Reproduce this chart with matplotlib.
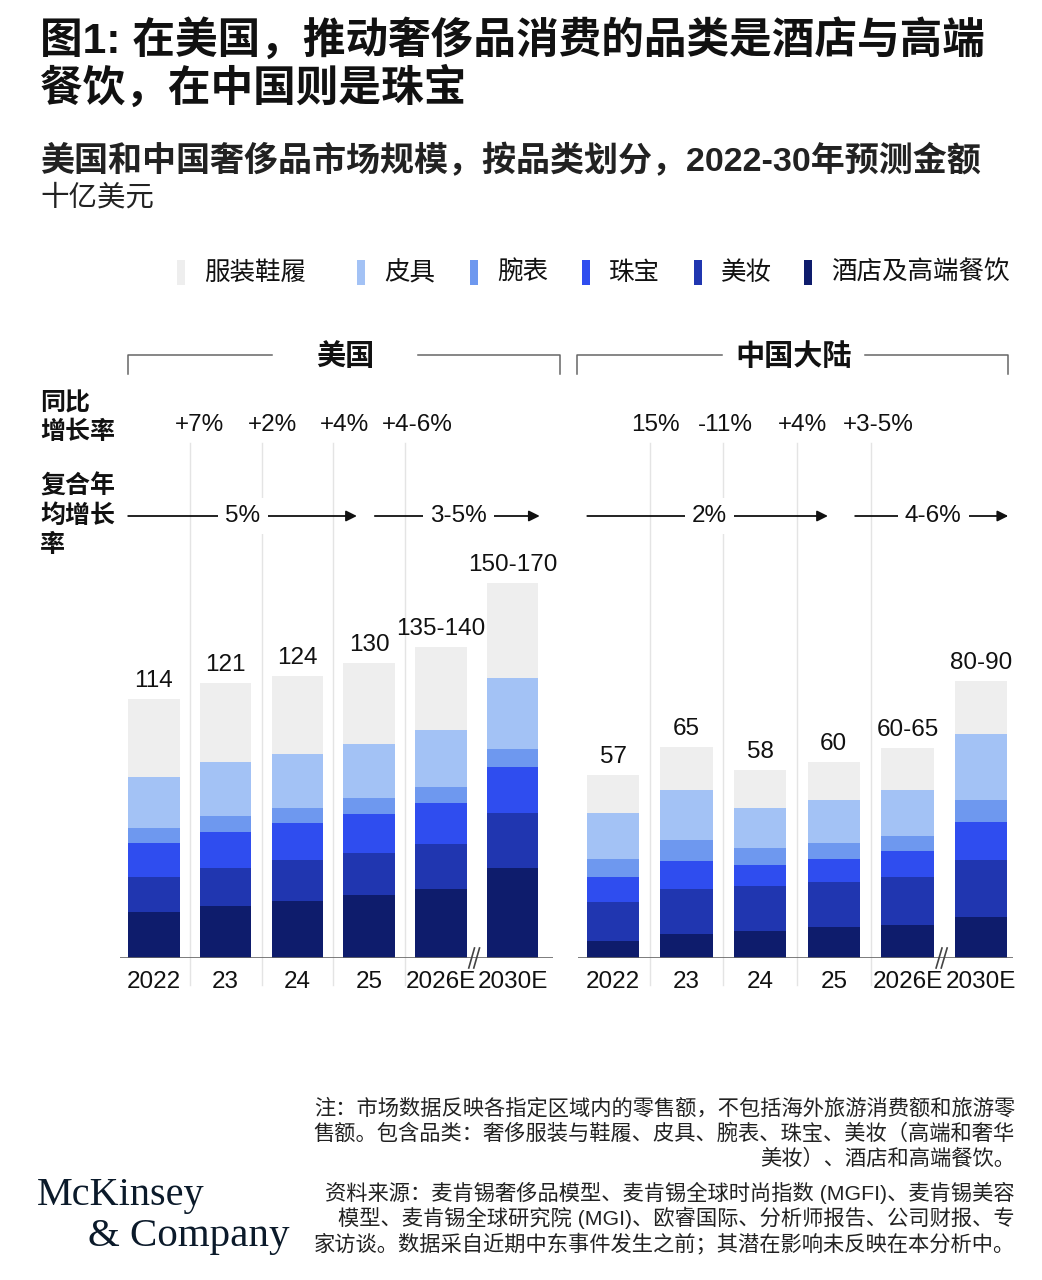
import matplotlib.pyplot as plt
from matplotlib.patches import Rectangle
from matplotlib.transforms import blended_transform_factory
import numpy as np

plt.rcParams['font.family'] = ['Liberation Sans', 'Noto Sans CJK SC', 'DejaVu Sans']

W, H = 1042, 1280

# ---- data ----
categories = ['服装鞋履', '皮具', '腕表', '珠宝', '美妆', '酒店及高端餐饮']
colors = ['#eeeeee', '#a3c2f5', '#6e98ef', '#2f4def', '#2036b0', '#0e1c6c']
years = ['2022', '23', '24', '25', '2026E', '2030E']

# US, 十亿美元, per category (top of stack first)
us_apparel = [34.5, 34.6, 34.7, 35.4, 36.6, 42.1]
us_leather = [22.3, 23.7, 23.6, 23.8, 25.1, 31.1]
us_watches = [6.8, 7.4, 6.8, 7.2, 7.2, 8.1]
us_jewelry = [14.8, 15.7, 16.3, 17.0, 17.8, 20.3]
us_beauty = [15.6, 16.6, 18.1, 18.6, 20.1, 24.2]
us_hotel = [20.1, 23.0, 24.9, 27.8, 30.2, 39.6]
us_totals = ['114', '121', '124', '130', '135-140', '150-170']
us_yoy = ['+7%', '+2%', '+4%', '+4-6%']
us_cagr = ['5%', '3-5%']

# China mainland
cn_apparel = [11.6, 13.2, 11.8, 11.7, 12.9, 16.5]
cn_leather = [14.2, 15.5, 12.3, 13.3, 14.2, 20.3]
cn_watches = [5.6, 6.6, 5.2, 4.7, 4.6, 6.7]
cn_jewelry = [7.7, 8.6, 6.7, 7.1, 8.1, 11.9]
cn_beauty = [12.2, 13.8, 13.7, 14.0, 14.7, 17.3]
cn_hotel = [5.1, 7.4, 8.4, 9.6, 10.3, 12.8]
cn_totals = ['57', '65', '58', '60', '60-65', '80-90']
cn_yoy = ['15%', '-11%', '+4%', '+3-5%']
cn_cagr = ['2%', '4-6%']

fig = plt.figure(figsize=(W / 100, H / 100), dpi=100)


def fy(py):
    return 1 - py / H


def draw_panel(left_px, right_px, xlim, ymax, width, series, totals, yoy, yoy_x,
               cagr, cagr_spans, name, bracket):
    base_px, top_px = 958, 440
    ax = fig.add_axes([left_px / W, fy(base_px), (right_px - left_px) / W,
                       (base_px - top_px) / H])
    x = np.arange(len(years))
    bottom = np.zeros(len(years))
    # stack from bottom (hotel) to top (apparel)
    for vals, col in zip(series[::-1], colors[::-1]):
        ax.bar(x, vals, width, bottom=bottom, color=col, zorder=3)
        bottom += np.array(vals)
    for xi, tot, txt in zip(x, bottom, totals):
        ax.annotate(txt, (xi, tot), xytext=(0, 5), textcoords='offset points',
                    ha='center', va='bottom', fontsize=17.5, color='#111111')
    ax.set_xlim(*xlim)
    ax.set_ylim(0, ymax)
    ax.set_xticks(x, years, fontsize=17.5, color='#111111')
    ax.tick_params(axis='x', length=0, pad=9)
    ax.set_yticks([])
    for s in ax.spines.values():
        s.set_visible(False)
    ax.axhline(0, color='#666666', lw=1.2, zorder=4)

    tr = blended_transform_factory(ax.transData, fig.transFigure)
    # thin separators between years
    for gx in x[:4] + 0.5:
        ax.plot([gx, gx], [fy(443), fy(985)], transform=tr, color='#e4e4e4',
                lw=1, clip_on=False, zorder=1)
    # axis break marker
    for dx in (-0.07, 0.0):
        ax.plot([4.5 + dx - 0.04, 4.5 + dx + 0.04], [fy(968), fy(948)],
                transform=tr, color='#444444', lw=1.2, clip_on=False, zorder=5)
    # YoY labels
    for lx, txt in zip(yoy_x, yoy):
        ax.text(lx, fy(425), txt, transform=tr, ha='center', va='center',
                fontsize=17.5, color='#111111')
    # CAGR arrows
    for (x0, x1, xm), txt in zip(cagr_spans, cagr):
        ax.annotate('', xy=(x1, fy(516)), xytext=(x0, fy(516)), xycoords=tr,
                    textcoords=tr,
                    arrowprops=dict(arrowstyle='-|>', color='#111111', lw=1.3,
                                    mutation_scale=16, shrinkA=0, shrinkB=0),
                    annotation_clip=False)
        ax.text(xm, fy(516), txt, transform=tr, ha='center', va='center',
                fontsize=17.5, color='#111111',
                bbox=dict(facecolor='white', edgecolor='none', pad=5))
    # bracket with region name
    b0, g0, g1, b1 = bracket
    kw = dict(transform=tr, color='#666666', lw=1.1, clip_on=False)
    ax.plot([b0, b0, g0], [fy(374), fy(355), fy(355)], **kw)
    ax.plot([g1, b1, b1], [fy(355), fy(355), fy(374)], **kw)
    ax.text((g0 + g1) / 2, fy(357), name, transform=tr, ha='center',
            va='center', fontsize=21, fontweight='bold', color='#111111')
    return ax


us_series = [us_apparel, us_leather, us_watches, us_jewelry, us_beauty, us_hotel]
cn_series = [cn_apparel, cn_leather, cn_watches, cn_jewelry, cn_beauty, cn_hotel]

draw_panel(120, 553, (-0.474, 5.565), 518 / 2.27, 0.72, us_series, us_totals,
           us_yoy, [0.64, 1.65, 2.66, 3.67], us_cagr,
           [(-0.36, 2.83, 1.24), (3.08, 5.38, 4.25)], '美国',
           (-0.36, 1.65, 3.68, 5.66))
draw_panel(578, 1013, (-0.476, 5.435), 518 / 3.24, 0.71, cn_series, cn_totals,
           cn_yoy, [0.57, 1.53, 2.57, 3.6], cn_cagr,
           [(-0.35, 2.92, 1.31), (3.29, 5.37, 4.35)], '中国大陆',
           (-0.49, 1.48, 3.42, 5.37))

# legend (hand placed, the entries are not evenly spaced in the original)
legend_x = [177, 357, 470, 582, 694, 804]
for lx, cat, col in zip(legend_x, categories, colors):
    fig.patches.append(Rectangle((lx / W, fy(285)), 8 / W, 25 / H, facecolor=col,
                                 edgecolor='none', transform=fig.transFigure))
    fig.text((lx + 27) / W, fy(273), cat, fontsize=18.4, ha='left', va='center',
             color='#111111')

# titles
fig.text(40 / W, fy(40), '图1: 在美国，推动奢侈品消费的品类是酒店与高端', fontsize=30.7,
         fontweight='bold', va='center', ha='left', color='#111111')
fig.text(40 / W, fy(88), '餐饮，在中国则是珠宝', fontsize=30.7,
         fontweight='bold', va='center', ha='left', color='#111111')
fig.text(40 / W, fy(161), '美国和中国奢侈品市场规模，按品类划分，2022-30年预测金额',
         fontsize=24.5, fontweight='bold', va='center', ha='left', color='#222222')
fig.text(40 / W, fy(198), '十亿美元', fontsize=20.5, va='center', ha='left',
         color='#222222')

# row labels
fig.text(40 / W, fy(418), '同比\n增长率', fontsize=18, fontweight='bold',
         va='center', ha='left', linespacing=1.25, color='#111111')
fig.text(40 / W, fy(516), '复合年\n均增长\n率', fontsize=18, fontweight='bold',
         va='center', ha='left', linespacing=1.28, color='#111111')

# notes
notes = ['注：市场数据反映各指定区域内的零售额，不包括海外旅游消费额和旅游零',
         '售额。包含品类：奢侈服装与鞋履、皮具、腕表、珠宝、美妆（高端和奢华',
         '美妆）、酒店和高端餐饮。']
sources = ['资料来源：麦肯锡奢侈品模型、麦肯锡全球时尚指数 (MGFI)、麦肯锡美容',
           '模型、麦肯锡全球研究院 (MGI)、欧睿国际、分析师报告、公司财报、专',
           '家访谈。数据采自近期中东事件发生之前；其潜在影响未反映在本分析中。']
for i, line in enumerate(notes):
    fig.text(1015 / W, fy(1108 + 25 * i), line, fontsize=15.3, ha='right',
             va='center', color='#222222')
for i, line in enumerate(sources):
    fig.text(1015 / W, fy(1193 + 25 * i), line, fontsize=15.3, ha='right',
             va='center', color='#222222')

# logo
fig.text(37 / W, fy(1205), 'McKinsey', fontsize=29, family='Liberation Serif',
         ha='left', va='baseline', color='#0b1a2a')
fig.text(88 / W, fy(1246), '& Company', fontsize=29.5, family='Liberation Serif',
         ha='left', va='baseline', color='#0b1a2a')

fig.savefig('out.png', dpi=100)
plt.close(fig)
